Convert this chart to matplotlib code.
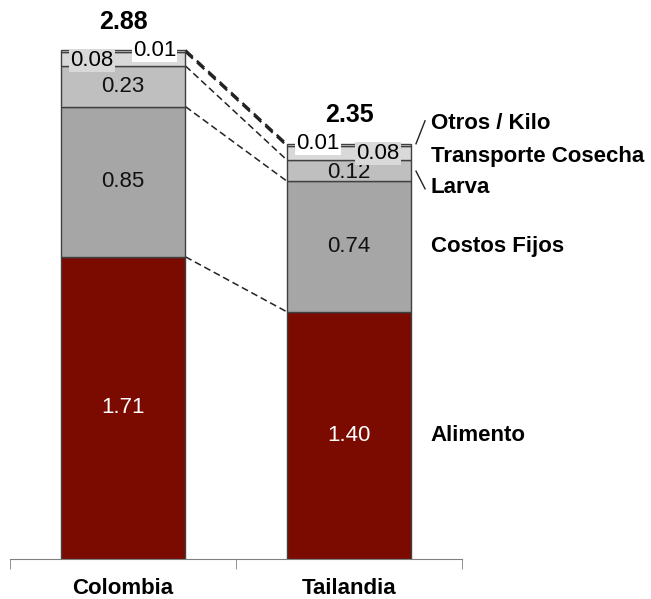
import matplotlib
matplotlib.use("Agg")
import matplotlib.pyplot as plt
import numpy as np

plt.rcParams['font.family'] = ['Liberation Sans', 'DejaVu Sans']

countries = ["Colombia", "Tailandia"]
segments = ["Alimento", "Costos Fijos", "Larva", "Transporte Cosecha", "Otros / Kilo"]
colombia = [1.71, 0.85, 0.23, 0.08, 0.01]
tailandia = [1.40, 0.74, 0.12, 0.08, 0.01]
totals = [2.88, 2.35]
colors = ["#7b0a00", "#a6a6a6", "#bfbfbf", "#d9d9d9", "#e6e6e6"]

values = np.array([colombia, tailandia])
x = np.arange(len(countries))
w = 0.553

fig = plt.figure(figsize=(6.51, 5.99), dpi=100)
ax = fig.add_axes([10 / 651, 40 / 599, 452 / 651, 559 / 599])

bottoms = np.zeros(len(countries))
for i, seg in enumerate(segments):
    ax.bar(x, values[:, i], w, bottom=bottoms, color=colors[i],
           edgecolor="#404040", linewidth=1.0, zorder=2)
    bottoms += values[:, i]

cum = np.cumsum(values, axis=1)

# dashed connectors between the two bars
for i in range(len(segments)):
    lw = 1.6 if i >= 3 else 1.1
    ax.plot([x[0] + w / 2, x[1] - w / 2], [cum[0, i], cum[1, i]],
            ls=(0, (4.5, 2.5)), color="#222222", lw=lw, zorder=1)

fs = 16
# big segment labels
for j in range(2):
    for i in range(3):
        mid = cum[j, i] - values[j, i] / 2
        if i == 2 and j == 1:
            mid -= 0.015
        ax.text(x[j], mid, f"{values[j, i]:.2f}", ha="center", va="center",
                fontsize=fs, color="white" if i == 0 else "#111111", zorder=4)
    ax.text(x[j], totals[j] + 0.16, f"{totals[j]:.2f}", ha="center", va="center",
            fontsize=fs + 2, fontweight="bold", zorder=4)

# small top labels
ax.text(x[0] - 0.137, cum[0, 2] + 0.03, f"{colombia[3]:.2f}", ha="center", va="center",
        fontsize=fs, zorder=5,
        bbox=dict(boxstyle="square,pad=0.05", fc="#d9d9d9", ec="none"))
ax.text(x[0] + 0.14, cum[0, 4] + 0.0, f"{colombia[4]:.2f}", ha="center", va="center",
        fontsize=fs, zorder=5,
        bbox=dict(boxstyle="square,pad=0.05", fc="white", ec="none"))
ax.text(x[1] - 0.137, cum[1, 4] + 0.0, f"{tailandia[4]:.2f}", ha="center", va="center",
        fontsize=fs, zorder=5,
        bbox=dict(boxstyle="square,pad=0.05", fc="white", ec="none"))
ax.text(x[1] + 0.128, cum[1, 2] + 0.035, f"{tailandia[3]:.2f}", ha="center", va="center",
        fontsize=fs, zorder=5,
        bbox=dict(boxstyle="square,pad=0.05", fc="#d9d9d9", ec="none"))

# series labels at the right
lx = x[1] + w / 2 + 0.085
ax.text(lx, cum[1, 4] + 0.115, segments[4], ha="left", va="center", fontsize=fs, fontweight="bold")
ax.text(lx, cum[1, 4] - 0.07, segments[3], ha="left", va="center", fontsize=fs, fontweight="bold")
ax.text(lx, cum[1, 2] - 0.16, segments[2], ha="left", va="center", fontsize=fs, fontweight="bold")
for i in (0, 1):
    ax.text(lx, cum[1, i] - values[1, i] / 2, segments[i], ha="left", va="center",
            fontsize=fs, fontweight="bold")
ax.plot([x[1] + w / 2 + 0.02, x[1] + w / 2 + 0.06], [cum[1, 4] + 0.0, cum[1, 4] + 0.13],
        color="#222222", lw=1, clip_on=False)
ax.plot([x[1] + w / 2 + 0.02, x[1] + w / 2 + 0.06], [cum[1, 2] - 0.065, cum[1, 2] - 0.165],
        color="#222222", lw=1, clip_on=False)

ax.set_xlim(-0.5, 1.5)
ax.set_ylim(0, 559 / 176.7)
for s in ("left", "right", "top"):
    ax.spines[s].set_visible(False)
ax.spines["bottom"].set_color("#808080")
ax.set_yticks([])
ax.set_xticks(x)
ax.set_xticklabels(countries, fontsize=fs, fontweight="bold")
ax.tick_params(axis="x", which="major", length=0, pad=14)
ax.set_xticks([-0.5, 0.5, 1.5], minor=True)
ax.tick_params(axis="x", which="minor", length=7, color="#808080")

fig.savefig("out.png", dpi=100)
